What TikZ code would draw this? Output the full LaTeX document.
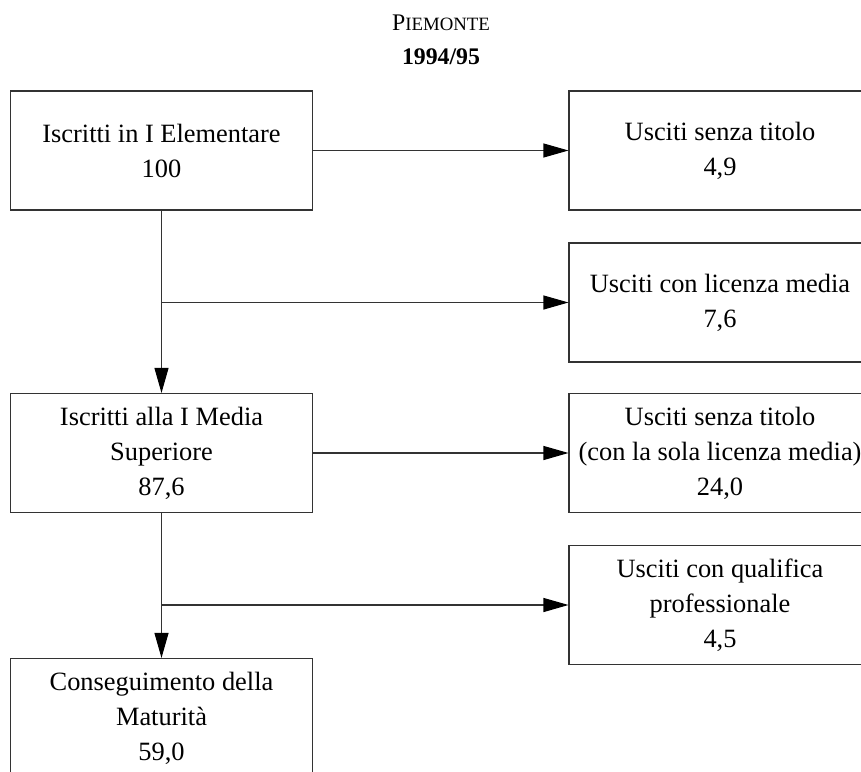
\documentclass[tikz,border=0pt]{standalone}
\usepackage{fontspec}
\setmainfont{Liberation Serif}
\usetikzlibrary{arrows.meta}
\newcommand{\boxfont}{\fontsize{13.2}{17.5}\selectfont}

\begin{document}
\begin{tikzpicture}[x=0.5pt, y=-0.5pt,
    flowbox/.style={draw=black!80, line width=0.55pt, minimum width=151pt, minimum height=59.5pt,
      inner sep=0pt, align=center, font=\boxfont},
    flowarr/.style={draw=black!80, line width=0.55pt, -{Triangle[length=12.5pt, width=7pt, black]}}]
        \useasboundingbox (0, 0) rectangle (861, 771);
        \clip (0, 0) rectangle (861, 771);
        \node (reg) at (441, 23) {\fontsize{11.9}{14}\selectfont P\fontsize{9.4}{14}\selectfont IEMONTE};
        \node (anno) at (441, 57) {\fontsize{11.9}{14}\selectfont\bfseries 1994/95};
        \node[flowbox] (elem) at (161.5, 150.5) {Iscritti in I Elementare\\100};
        \node[flowbox] (usc1) at (720, 150.5) {Usciti senza titolo\\4,9};
        \node[flowbox] (lic) at (720, 302.5) {Usciti con licenza media\\7,6};
        \node[flowbox] (med) at (161.5, 453) {Iscritti alla I Media\\Superiore\\87,6};
        \node[flowbox] (usc2) at (720, 453) {Usciti senza titolo\\(con la sola licenza media)\hspace*{5pt}\\24,0};
        \node[flowbox] (qual) at (720, 605) {Usciti con qualifica\\professionale\\4,5};
        \node[flowbox] (mat) at (161.5, 718) {Conseguimento della\\Maturità\\59,0};
        \coordinate (b1) at (elem.south |- lic.west);
        \coordinate (b2) at (med.south |- qual.west);
        \draw[flowarr] (elem.east) -- (usc1.west);
        \draw[flowarr] (elem.south) -- (med.north);
        \draw[flowarr] (b1) -- (lic.west);
        \draw[flowarr] (med.east) -- (usc2.west);
        \draw[flowarr] (med.south) -- (mat.north);
        \draw[flowarr] (b2) -- (qual.west);
      \end{tikzpicture}
\end{document}
